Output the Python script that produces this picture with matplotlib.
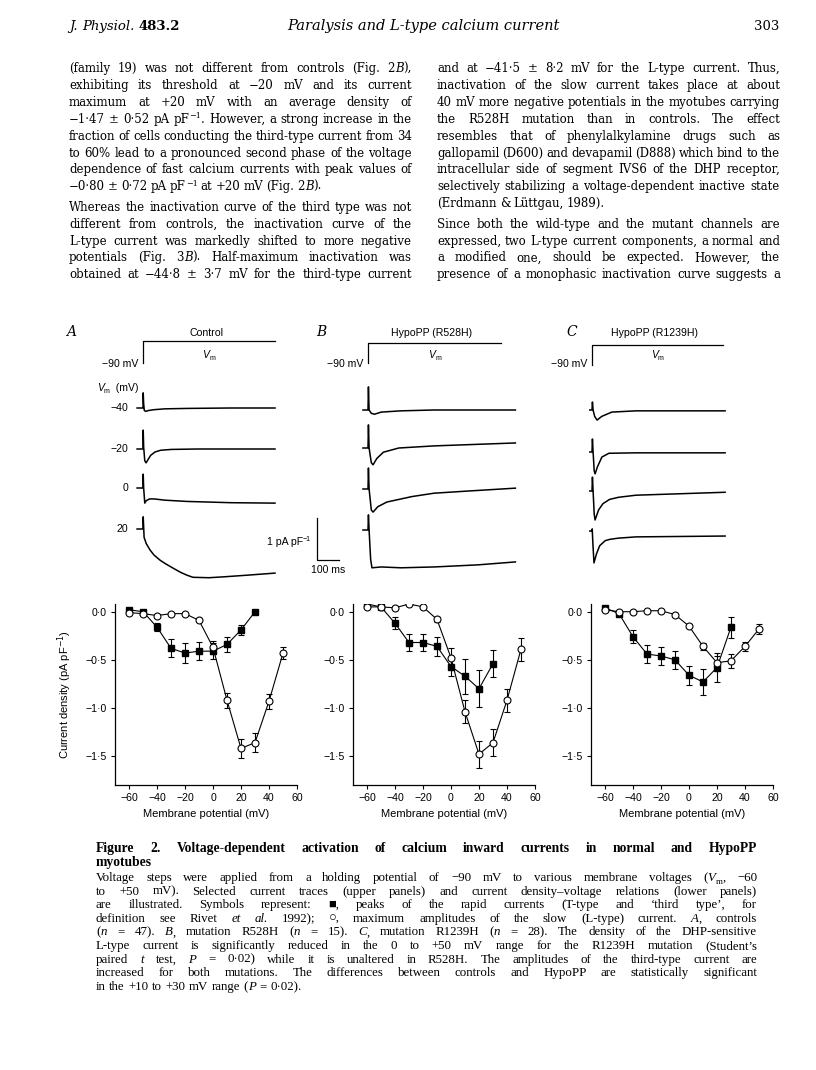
import matplotlib
matplotlib.use('Agg')
import matplotlib.pyplot as plt

W, H = 816, 1070

# current-voltage data (mV, pA pF-1)
volts_sq = [-60, -50, -40, -30, -20, -10, 0, 10, 20, 30]
volts_ci = [-60, -50, -40, -30, -20, -10, 0, 10, 20, 30, 40, 50]

ctrl_sq = [0.02, 0.0, -0.16, -0.38, -0.43, -0.41, -0.41, -0.34, -0.19, 0.0]
ctrl_sq_err = [0.0, 0.0, 0.045, 0.095, 0.10, 0.095, 0.085, 0.075, 0.055, 0.0]
ctrl_ci = [-0.01, -0.02, -0.04, -0.02, -0.02, -0.09, -0.37, -0.92, -1.42, -1.36, -0.93, -0.43]
ctrl_ci_err = [0.0, 0.0, 0.0, 0.0, 0.0, 0.02, 0.07, 0.08, 0.10, 0.10, 0.08, 0.06]

r528_sq = [0.08, 0.05, -0.12, -0.32, -0.32, -0.36, -0.57, -0.67, -0.80, -0.54]
r528_sq_err = [0.0, 0.0, 0.06, 0.09, 0.09, 0.10, 0.10, 0.18, 0.19, 0.14]
r528_ci = [0.05, 0.05, 0.04, 0.08, 0.05, -0.08, -0.48, -1.04, -1.48, -1.36, -0.92, -0.39]
r528_ci_err = [0.0, 0.0, 0.0, 0.0, 0.0, 0.03, 0.10, 0.12, 0.14, 0.14, 0.12, 0.12]

r1239_sq = [0.04, -0.02, -0.26, -0.44, -0.46, -0.50, -0.66, -0.73, -0.58, -0.16]
r1239_sq_err = [0.0, 0.0, 0.065, 0.09, 0.095, 0.09, 0.10, 0.14, 0.15, 0.11]
r1239_ci = [0.02, 0.0, 0.0, 0.01, 0.01, -0.03, -0.15, -0.36, -0.53, -0.51, -0.36, -0.18]
r1239_ci_err = [0.0, 0.0, 0.0, 0.0, 0.0, 0.0, 0.0, 0.04, 0.07, 0.07, 0.05, 0.05]

xtick_vals = [-60, -40, -20, 0, 20, 40, 60]
xtick_labels = ['\u221260', '\u221240', '\u221220', '0', '20', '40', '60']
ytick_vals = [0.0, -0.5, -1.0, -1.5]
ytick_labels = ['0\u00b70', '\u22120\u00b75', '\u22121\u00b70', '\u22121\u00b75']

# current traces (ms, pA pF-1), steps to -40, -20, 0, +20 mV
trace_steps = ['\u221240', '\u221220', '0', '20']
ctrl_t = [[-27, 0, 1, 3, 6, 12, 25, 50, 100, 200, 400, 600],
          [-27, 0, 1, 3, 8, 14, 22, 35, 55, 80, 130, 250, 600],
          [-27, 0, 1, 3, 8, 15, 30, 50, 100, 200, 400, 600],
          [-27, 0, 1, 5, 15, 32, 50, 77, 100, 136, 170, 200, 227, 300, 364, 473, 600]]
ctrl_i = [[0, 0, 0.36, 0.1, -0.06, -0.08, -0.06, -0.04, -0.02, -0.01, 0.0, 0.0],
          [0, 0, 0.45, 0.05, -0.28, -0.33, -0.26, -0.15, -0.07, -0.03, -0.01, 0.0, 0.0],
          [0, 0, 0.33, 0.0, -0.36, -0.30, -0.26, -0.26, -0.29, -0.32, -0.35, -0.36],
          [0, 0, 0.29, -0.2, -0.35, -0.5, -0.62, -0.74, -0.82, -0.93, -1.03, -1.1, -1.15, -1.16, -1.14, -1.10, -1.05]]
r528_t = [[-23, 0, 2, 5, 15, 30, 60, 150, 300, 670],
          [-23, 0, 2, 5, 15, 23, 40, 70, 140, 300, 670],
          [-23, 0, 2, 5, 15, 23, 45, 86, 200, 300, 450, 670],
          [-23, 0, 2, 5, 12, 18, 60, 150, 300, 500, 670]]
r528_i = [[0, 0, 0.55, 0.0, -0.08, -0.10, -0.05, -0.02, 0.0, 0.0],
          [0, 0, 0.55, 0.0, -0.35, -0.40, -0.25, -0.10, 0.0, 0.05, 0.12],
          [0, 0, 0.5, 0.0, -0.5, -0.55, -0.42, -0.31, -0.18, -0.10, -0.05, 0.02],
          [0, 0, 0.36, 0.0, -0.7, -0.9, -0.88, -0.9, -0.88, -0.83, -0.76]]
r1239_t = [[-10, 0, 2, 5, 12, 23, 45, 90, 200, 605],
           [-10, 0, 2, 5, 10, 14, 25, 45, 77, 200, 605],
           [-10, 0, 2, 5, 10, 14, 30, 50, 80, 120, 200, 605],
           [-10, 0, 1, 4, 9, 20, 35, 60, 80, 120, 200, 605]]
r1239_i = [[0, 0, 0.19, 0.0, -0.15, -0.24, -0.15, -0.05, -0.02, -0.02],
           [0, 0, 0.31, 0.0, -0.45, -0.52, -0.35, -0.12, -0.03, -0.02, -0.02],
           [0, 0, 0.33, 0.0, -0.55, -0.69, -0.45, -0.30, -0.20, -0.15, -0.10, -0.03],
           [0, 0, 0.05, -0.3, -0.76, -0.55, -0.35, -0.23, -0.2, -0.17, -0.14, -0.12]]

# page text ('+' at the end = paragraph continues in the next column)
left_col = [
    ["(family 19) was not different from controls (Fig. 2*B*),",
     "exhibiting its threshold at \u221220 mV and its current",
     "maximum at +20 mV with an average density of",
     "\u22121\u00b747 \u00b1 0\u00b752 pA pF^\u22121^. However, a strong increase in the",
     "fraction of cells conducting the third-type current from 34",
     "to 60% lead to a pronounced second phase of the voltage",
     "dependence of fast calcium currents with peak values of",
     "\u22120\u00b780 \u00b1 0\u00b772 pA pF^\u22121^ at +20 mV (Fig. 2*B*)."],
    ["Whereas the inactivation curve of the third type was not",
     "different from controls, the inactivation curve of the",
     "L-type current was markedly shifted to more negative",
     "potentials (Fig. 3*B*). Half-maximum inactivation was",
     "obtained at \u221244\u00b78 \u00b1 3\u00b77 mV for the third-type current+"],
]
right_col = [
    ["and at \u221241\u00b75 \u00b1 8\u00b72 mV for the L-type current. Thus,",
     "inactivation of the slow current takes place at about",
     "40 mV more negative potentials in the myotubes carrying",
     "the R528H mutation than in controls. The effect",
     "resembles that of phenylalkylamine drugs such as",
     "gallopamil (D600) and devapamil (D888) which bind to the",
     "intracellular side of segment IVS6 of the DHP receptor,",
     "selectively stabilizing a voltage-dependent inactive state",
     "(Erdmann & L\u00fcttgau, 1989)."],
    ["Since both the wild-type and the mutant channels are",
     "expressed, two L-type current components, a normal and",
     "a modified one, should be expected. However, the",
     "presence of a monophasic inactivation curve suggests a+"],
]
caption_title = ["Figure 2. Voltage-dependent activation of calcium inward currents in normal and HypoPP",
                 "myotubes"]
caption_body = [
    "Voltage steps were applied from a holding potential of \u221290 mV to various membrane voltages (*V*_m_, \u221260",
    "to +50 mV). Selected current traces (upper panels) and current density\u2013voltage relations (lower panels)",
    "are illustrated. Symbols represent: \u25a0, peaks of the rapid currents (T-type and \u2018third type\u2019, for",
    "definition see Rivet *et* *al.* 1992); \u25cb, maximum amplitudes of the slow (L-type) current. *A*, controls",
    "(*n* = 47). *B*, mutation R528H (*n* = 15). *C*, mutation R1239H (*n* = 28). The density of the DHP-sensitive",
    "L-type current is significantly reduced in the 0 to +50 mV range for the R1239H mutation (Student\u2019s",
    "paired *t* test, *P* = 0\u00b702) while it is unaltered in R528H. The amplitudes of the third-type current are",
    "increased for both mutations. The differences between controls and HypoPP are statistically significant",
    "in the +10 to +30 mV range (*P* = 0\u00b702).",
]

SERIF = ['DejaVu Serif']
CAPF = ['Liberation Serif', 'DejaVu Serif']
SANS = ['Liberation Sans', 'DejaVu Sans']

fig = plt.figure(figsize=(W / 100, H / 100), dpi=100)
renderer = fig.canvas.get_renderer()


def fx(x):
    return x / W


def fy(y):
    return 1 - y / H


def parse(word):
    frags, buf = [], ''
    st = {'i': False, 'b': False, 'sup': False, 'sub': False}
    keys = {'*': 'i', '#': 'b', '^': 'sup', '_': 'sub'}
    for ch in word:
        if ch in keys:
            if buf:
                frags.append((buf, dict(st)))
                buf = ''
            st[keys[ch]] = not st[keys[ch]]
        else:
            buf += ch
    if buf:
        frags.append((buf, dict(st)))
    return frags


def make_word(word, fs, fam, weight='normal', style='normal'):
    items = []
    for s, st in parse(word):
        small = st['sup'] or st['sub']
        t = fig.text(0, 0, s, fontsize=fs * (0.68 if small else 1), family=fam,
                     style='italic' if (st['i'] or style == 'italic') else 'normal',
                     weight='bold' if (st['b'] or weight == 'bold') else 'normal',
                     va='baseline', ha='left')
        w = t.get_window_extent(renderer).width
        dy = fs * 0.40 if st['sup'] else (-fs * 0.20 if st['sub'] else 0)
        items.append((t, w, dy * 100 / 72))
    return items, sum(it[1] for it in items)


def place(items, x, y):
    for t, w, dy in items:
        t.set_position((fx(x), fy(y - dy)))
        x += w


def put(word, x, y, fs, fam, ha='left', **kw):
    items, w = make_word(word, fs, fam, **kw)
    if ha == 'center':
        x -= w / 2
    elif ha == 'right':
        x -= w
    place(items, x, y)


def natural_width(line, fs, fam, weight='normal'):
    line = line.rstrip('+')
    total = 0
    words = line.split(' ')
    for w in words:
        items, wd = make_word(w, fs, fam, weight=weight)
        for it in items:
            it[0].remove()
        total += wd
    return total + (len(words) - 1) * fs * 0.22 * 100 / 72


def fit_size(lines, avail, fam, fs0=10.0, weight='normal'):
    widest = max(natural_width(ln, fs0, fam, weight) for ln in lines)
    return fs0 * avail / widest


def put_line(line, x0, x1, y, fs, fam, justify=True, weight='normal'):
    line = line.rstrip('+')
    words = [make_word(w, fs, fam, weight=weight) for w in line.split(' ')]
    total = sum(w for _, w in words)
    gap = fs * 0.27 * 100 / 72
    if justify and len(words) > 1:
        gap = (x1 - x0 - total) / (len(words) - 1)
    x = x0
    for items, w in words:
        place(items, x, y)
        x += w + gap


# header
put('*J.* *Physiol.* #483.2#', 69, 30, 9.5, SERIF)
put('Paralysis and L-type calcium current', 423, 30, 10.5, SERIF, ha='center', style='italic')
put('303', 779, 30, 9.5, SERIF, ha='right')


# two text columns
def column(paras, x0, x1, y0, fs):
    y = y0
    for para in paras:
        for k, ln in enumerate(para):
            last = (k == len(para) - 1) and not ln.endswith('+')
            put_line(ln, x0, x1, y, fs, SERIF, justify=not last)
            y += 16.9
        y += 3.5


body_lines = [ln for para in left_col + right_col for ln in para]
body_fs = fit_size(body_lines, 343, SERIF, 9.0)
column(left_col, 69, 412, 72, body_fs)
column(right_col, 437, 780, 72, body_fs)

# caption (line pitch 13.6 px limits the size)
cap_fs = min(fit_size(caption_body[:-1], 661, CAPF, 10.0), 9.3)
title_fs = min(fit_size(caption_title[:1], 661, CAPF, 10.0, weight='bold'), 9.8)
for k, ln in enumerate(caption_title):
    put_line(ln, 96, 757, 852 + 14 * k, title_fs, CAPF, justify=(k == 0), weight='bold')
for k, ln in enumerate(caption_body):
    put_line(ln, 96, 757, 881 + 13.6 * k, cap_fs, CAPF, justify=(k < len(caption_body) - 1))

# ---------------- trace panels ----------------
PX_MS = 0.22   # px per ms
PX_PA = 42.0   # px per pA pF-1
TR_TOP, TR_BOT = 325, 595

panels = [
    dict(letter='A', title='Control', x0=143, xl=66, tend=600, hold=363, step=341,
         base=[408, 449, 488, 529], t=ctrl_t, i=ctrl_i, labels=True),
    dict(letter='B', title='HypoPP (R528H)', x0=368, xl=316, tend=605, hold=363, step=343,
         base=[410, 448, 489, 530], t=r528_t, i=r528_i, labels=False),
    dict(letter='C', title='HypoPP (R1239H)', x0=592, xl=566, tend=595, hold=365, step=345,
         base=[410, 452, 491, 531], t=r1239_t, i=r1239_i, labels=False),
]

FS = 7.6
for p in panels:
    left_px, right_px = p['x0'] - 50, p['x0'] + 170
    ax = fig.add_axes([fx(left_px), fy(TR_BOT), (right_px - left_px) / W, (TR_BOT - TR_TOP) / H])
    ax.set_xlim(-50 / PX_MS, 170 / PX_MS)
    ax.set_ylim(-(TR_BOT - TR_TOP) / PX_PA, 0)
    ax.axis('off')

    def yv(py):
        return -(py - TR_TOP) / PX_PA

    # voltage protocol
    ax.plot([0, 0, p['tend']], [yv(p['hold']), yv(p['step']), yv(p['step'])],
            color='k', lw=0.9, clip_on=False)
    for k in range(4):
        off = yv(p['base'][k])
        ax.plot(p['t'][k], [v + off for v in p['i'][k]], color='k', lw=1.1,
                solid_joinstyle='round', clip_on=False)

    put(p['letter'], p['xl'], 336, 10, SERIF, style='italic')
    put(p['title'], p['x0'] + p['tend'] * PX_MS / 2 - 3, 336, FS, SANS, ha='center')
    put('\u221290 mV', p['x0'] - 5, 367, FS, SANS, ha='right')
    put('*V*_m_', p['x0'] + p['tend'] * PX_MS / 2, 358, FS, SANS, ha='center')
    if p['labels']:
        put('*V*_m_  (mV)', 97, 391, FS, SANS)
        for k in range(4):
            put(trace_steps[k], 128, p['base'][k] + 3, FS, SANS, ha='right')
        # scale bar: 100 ms, 1 pA pF-1
        xs = (317 - p['x0']) / PX_MS
        yb = yv(560)
        ax.plot([xs, xs, xs + 100], [yb + 1.0, yb, yb], color='k', lw=0.9, clip_on=False)
        put('1 pA pF^\u22121^', 311, 545, FS, SANS, ha='right')
        put('100 ms', 328, 573, FS, SANS, ha='center')

# ---------------- I-V panels ----------------
iv_sets = [
    (115, ctrl_sq, ctrl_sq_err, ctrl_ci, ctrl_ci_err),
    (353, r528_sq, r528_sq_err, r528_ci, r528_ci_err),
    (591, r1239_sq, r1239_sq_err, r1239_ci, r1239_ci_err),
]
IV_TOP, IV_W, IV_H = 604, 182, 181

for n, (lx, sq, sqe, ci, cie) in enumerate(iv_sets):
    ax = fig.add_axes([fx(lx), fy(IV_TOP + IV_H), IV_W / W, IV_H / H])
    ax.errorbar(volts_sq, sq, yerr=sqe, fmt='none', ecolor='k', elinewidth=0.8,
                capsize=2.0, capthick=0.8, zorder=2)
    ax.errorbar(volts_ci, ci, yerr=cie, fmt='none', ecolor='k', elinewidth=0.8,
                capsize=2.0, capthick=0.8, zorder=2)
    ax.plot(volts_sq, sq, color='k', lw=0.8, marker='s', ms=4.5, mfc='k', mec='k', zorder=3)
    ax.plot(volts_ci, ci, color='k', lw=0.8, marker='o', ms=5.0, mfc='white', mec='k',
            mew=0.8, zorder=4)
    ax.set_xlim(-70, 60)
    ax.set_ylim(-1.8, 0.08)
    for s in ['top', 'right']:
        ax.spines[s].set_visible(False)
    for s in ['left', 'bottom']:
        ax.spines[s].set_linewidth(0.9)
    ax.set_xticks(xtick_vals)
    ax.set_xticklabels(xtick_labels, fontsize=FS, family=SANS)
    ax.set_yticks(ytick_vals)
    ax.set_yticklabels(ytick_labels, fontsize=FS, family=SANS)
    ax.tick_params(length=3, width=0.8, pad=3)
    ax.set_xlabel('Membrane potential (mV)', fontsize=FS + 0.4, family=SANS, labelpad=4)
    if n == 0:
        ax.set_ylabel('Current density (pA pF$^{\u22121}$)', fontsize=FS + 0.4, family=SANS,
                      labelpad=8)

fig.savefig('out.png', dpi=100)
